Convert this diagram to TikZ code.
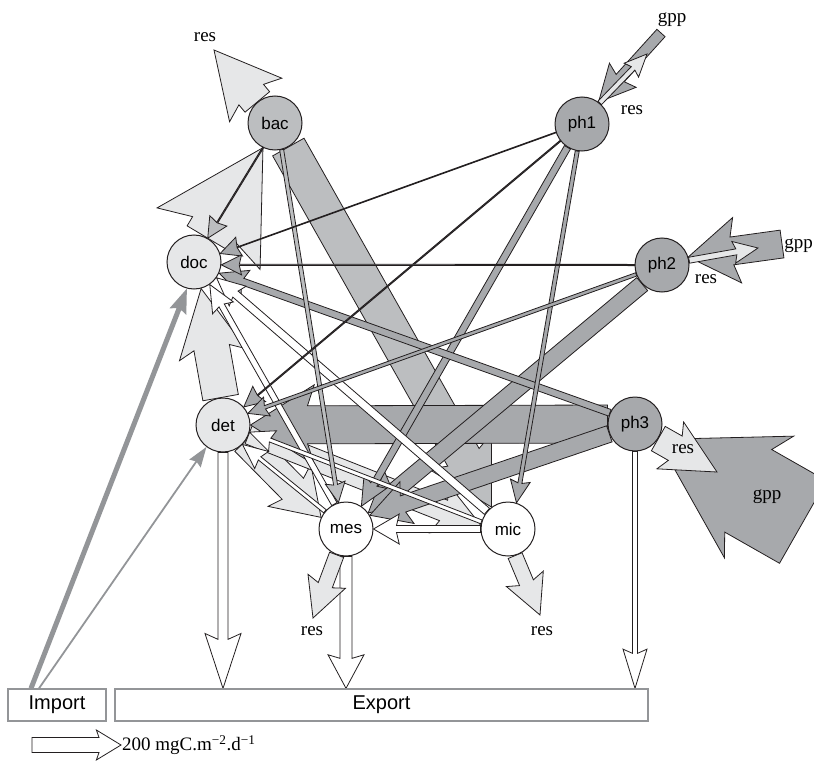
\documentclass[tikz,border=0pt]{standalone}
\usepackage{fontspec}
\setmainfont{Liberation Serif}
\setsansfont{Liberation Sans}
\usetikzlibrary{calc}
\definecolor{phg}{HTML}{A7A9AC}
\definecolor{bacg}{HTML}{BCBEC0}
\definecolor{lg}{HTML}{E6E7E8}
\definecolor{impg}{HTML}{939598}
\definecolor{ink}{HTML}{231F20}
\pgfdeclarelayer{bg}
\pgfsetlayers{bg,main}
% #1 extra style, #2 fill, #3 start, #4 end, #5 shaft width, #6 head half width, #7 head length
\newcommand\flow[7][]{%
 \draw[flowline,fill=#2,#1] let \p1=#3, \p2=#4,
   \n1={atan2(\y2-\y1,\x2-\x1)},
   \n2={veclen(\x2-\x1,\y2-\y1)},
   \n3={max(\n2-(#7),0)},
   \n4={max(\n2-1.12*(#7),0)} in
   ($(\p1)+({\n1+90}:{#5*0.5pt})$) --
   ($(\p1)+({\n1}:{\n3*1pt})+({\n1+90}:{#5*0.5pt})$) --
   ($(\p1)+({\n1}:{\n4*1pt})+({\n1+90}:{#6*1pt})$) --
   (\p2) --
   ($(\p1)+({\n1}:{\n4*1pt})+({\n1-90}:{#6*1pt})$) --
   ($(\p1)+({\n1}:{\n3*1pt})+({\n1-90}:{#5*0.5pt})$) --
   ($(\p1)+({\n1-90}:{#5*0.5pt})$) -- cycle;}
\begin{document}
\begin{tikzpicture}[x=1pt,y=-1pt,
  flowline/.style={draw=ink,line width=0.8pt,line join=miter,miter limit=5},
  cnode/.style={circle,draw=ink,line width=1pt,minimum size=54pt,inner sep=0pt,
    font=\sffamily\fontsize{17}{17}\selectfont},
  boxnode/.style={rectangle,draw=impg,line width=1.3pt,minimum height=32pt,inner sep=0pt,
    font=\sffamily\fontsize{20}{20}\selectfont},
  lab/.style={font=\fontsize{19}{19}\selectfont,inner sep=0pt},
  imp/.style={draw=none}]
\useasboundingbox (0,0) rectangle (814,768);
% compartments
\node[cnode,fill=bacg] (bac) at (275,123) {bac};
\node[cnode,fill=phg] (ph1) at (582,124) {ph1};
\node[cnode,fill=lg] (doc) at (194,262) {doc};
\node[cnode,fill=phg] (ph2) at (662,265) {ph2};
\node[cnode,fill=lg] (det) at (223,425) {det};
\node[cnode,fill=phg] (ph3) at (635,424) {ph3};
\node[cnode,fill=white] (mes) at (346,529) {mes};
\node[cnode,fill=white] (mic) at (508,529) {mic};
\node[boxnode,minimum width=98pt] (imp) at (57,705) {Import};
\node[boxnode,minimum width=533pt] (exp) at (381.5,705) {Export};
% free ends
\coordinate (bacres) at (214,50);
\coordinate (ph1gpp) at (661,33);
\coordinate (ph1res) at (647,54);
\coordinate (ph2gpp) at (782,244);
\coordinate (ph2res) at (758,248);
\coordinate (ph3gpp) at (803,522);
\coordinate (ph3res) at (717,472);
\coordinate (mesres) at (313,618);
\coordinate (micres) at (540,615);
\coordinate (i1) at ($(imp.north)+(-26,0)$);
\coordinate (i2) at ($(imp.north)+(-18,0)$);
\coordinate (sa) at (32,745);
\coordinate (sb) at (121,745);
\begin{pgfonlayer}{bg}
\begin{scope}
\clip (0,0) rectangle (814,768);
\flow{phg}{(ph3gpp)}{(ph3.-34)}{95}{70}{104}
\flow{lg}{(ph3.-32)}{(ph3res)}{28}{27}{48}
\flow{lg}{(doc.58)}{(bac.-116)}{50}{60}{95}
\flow{lg}{(bac.130)}{(bacres)}{32}{34}{58}
\flow{lg}{(det.95)}{(doc.-75)}{36}{34}{60}
\flow{lg}{(det.-35)}{(mes.155)}{30}{30}{40}
\flow{lg}{(det.-18)}{(mic.172)}{22}{26}{40}
\flow{bacg}{(bac.-61)}{(mic.127)}{36}{36}{57}
\flow{phg}{(ph3.180)}{(det.0)}{38}{40}{57}
\flow{phg}{(ph2.224)}{(mes.36)}{17}{22}{35}
\flow{phg}{(ph3.201)}{(mes.30)}{17}{22}{35}
\flow{phg}{(ph1.238)}{(mes.56)}{7}{13}{25}
\flow{phg}{(ph3.156)}{(doc.-24)}{7}{13}{25}
\flow{white}{(mic.140)}{(doc.-35)}{8}{13}{25}
\flow{white}{(mes.115)}{(doc.-55)}{6}{12}{24}
\flow{white}{(mic.165)}{(det.-15)}{4}{11}{22}
\flow{white}{(mes.140)}{(det.-45)}{4}{11}{22}
\flow{white}{(mic.180)}{(mes.0)}{7}{15}{23}
\flow{bacg}{(bac.-116)}{(doc.60)}{1.2}{10}{18}
\flow{bacg}{(bac.-76)}{(mes.106)}{4}{10}{18}
\flow{phg}{(ph1.198)}{(doc.18)}{0.8}{10}{18}
\flow{phg}{(ph1.218)}{(det.41)}{1.2}{10}{18}
\flow{phg}{(ph1.260)}{(mic.72)}{4}{10}{20}
\flow{phg}{(ph2.180)}{(doc.-6)}{1.2}{10}{18}
\flow{phg}{(ph2.200)}{(det.25)}{3.5}{10}{18}
\flow{phg}{(ph1gpp)}{(ph1.53)}{11}{18}{32}
\flow{lg}{(ph1.50)}{(ph1res)}{5}{10}{20}
\flow{phg}{(ph2gpp)}{(ph2.17)}{28}{33}{44}
\flow{lg}{(ph2.10)}{(ph2res)}{6}{11}{22}
\flow{white}{(ph3.-90)}{(exp.north -| ph3)}{5}{12}{35}
\flow{white}{(det.-90)}{(exp.north -| det)}{10}{18}{49}
\flow{white}{(mes.-90)}{(exp.north -| mes)}{12}{18}{30}
\flow{lg}{(mes.-110)}{(mesres)}{15}{20}{35}
\flow{lg}{(mic.-75)}{(micres)}{15}{20}{35}
\flow[imp]{impg}{(i1)}{(doc.-105)}{5}{9}{22}
\flow[imp]{impg}{(i2)}{(det.-127)}{1.8}{7}{18}
\flow{white}{(sa)}{(sb)}{15}{15}{22}
\end{scope}
\end{pgfonlayer}
% labels
\node[lab] (lbres) at (205,37) {res};
\node[lab] (l1gpp) at (672,20) {gpp};
\node[lab] (l1res) at (632,110) {res};
\node[lab,anchor=east] (l2gpp) at (813,246) {gpp};
\node[lab] (l2res) at (706,279) {res};
\node[lab] (l3res) at (683,449) {res};
\node[lab] (l3gpp) at (767,497) {gpp};
\node[lab] (lmres) at (312,631) {res};
\node[lab] (lcres) at (542,631) {res};
\node[lab,anchor=west] (scale) at ($(sb)+(1,0)$) {200 mgC.m\textsuperscript{−2}.d\textsuperscript{−1}};
\end{tikzpicture}
\end{document}
